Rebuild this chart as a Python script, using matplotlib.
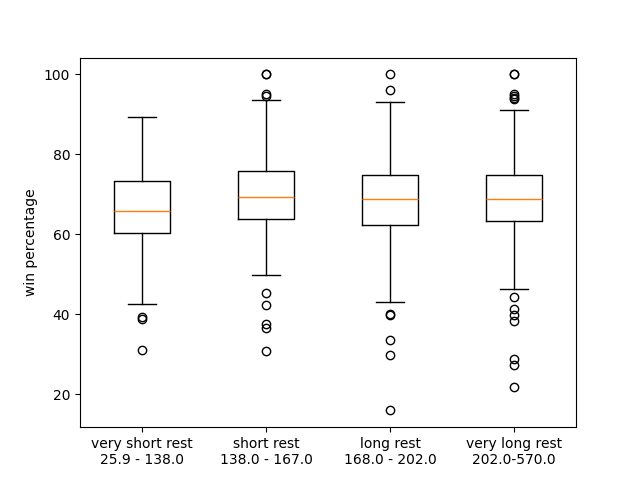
import matplotlib
matplotlib.use("Agg")
import matplotlib.pyplot as plt

# values
labels = ["very short rest\n25.9 - 138.0", "short rest\n138.0 - 167.0",
          "long rest\n168.0 - 202.0", "very long rest\n202.0-570.0"]
q1 = [60.4, 63.75, 62.2, 63.2]
med = [65.7, 69.4, 68.7, 68.7]
q3 = [73.4, 75.7, 74.8, 74.8]
whislo = [42.5, 49.9, 43.1, 46.2]
whishi = [89.4, 93.7, 93.2, 91.2]
fliers = [
    [39.2, 38.8, 30.9],
    [100.0, 100.0, 95.0, 94.7, 45.2, 42.4, 37.5, 36.6, 30.75],
    [100.0, 96.2, 40.0, 39.9, 33.4, 29.7, 15.9],
    [100.0, 100.0, 95.0, 94.6, 94.2, 93.8, 44.4, 41.4, 39.9, 38.4, 28.75, 27.2, 21.7],
]

stats = []
for i in range(len(labels)):
    stats.append({"label": labels[i], "q1": q1[i], "med": med[i], "q3": q3[i],
                  "whislo": whislo[i], "whishi": whishi[i], "fliers": fliers[i]})

fig, ax = plt.subplots(figsize=(6.4, 4.8), dpi=100)
ax.bxp(stats)
ax.set_ylabel("win percentage")
fig.savefig("out.png")
